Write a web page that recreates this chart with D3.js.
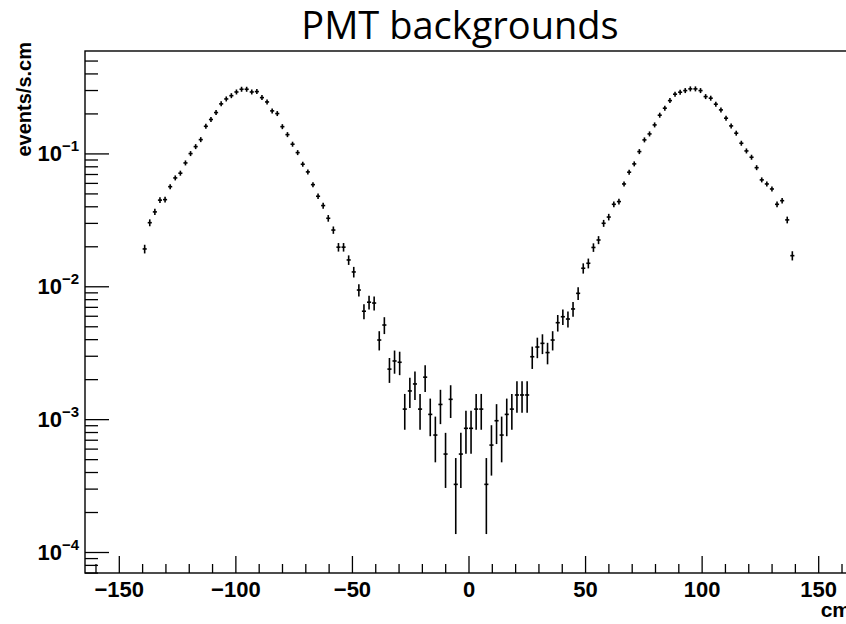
<!DOCTYPE html>
<html>
<head>
<meta charset="utf-8">
<script src="https://cdn.jsdelivr.net/npm/d3@7"></script>
<style>
  body { margin: 0; background: #fff; }
  svg { display: block; }
</style>
</head>
<body>
<svg id="chart" width="846" height="624"></svg>
<script>
// Histogram binning (128 bins between -140 and 140 cm).
const binLow = -140;
const binHigh = 140;
const nBins = 128;

// Rate in each bin, events/s.cm, left to right.
const rates = [
  0.0191, 0.0301, 0.0363, 0.0445, 0.0449, 0.0562, 0.0654, 0.0710, 0.0848, 0.0997,
  0.1125, 0.127, 0.160, 0.180, 0.203, 0.236, 0.257, 0.272, 0.290, 0.304,
  0.304, 0.290, 0.292, 0.263, 0.244, 0.209, 0.1995, 0.159, 0.1385, 0.1173,
  0.1014, 0.0829, 0.0726, 0.0582, 0.0476, 0.0405, 0.0325, 0.0265, 0.0197, 0.0197,
  0.01578, 0.01282, 0.00937,
  0.00649, 0.00759, 0.00748, 0.00394, 0.00511, 0.00238, 0.00274, 0.00268, 0.00119, 0.00163,
  0.00184, 0.00119, 0.00207, 0.001086, 0.000759, 0.00129, 0.000546, 0.00141, 0.000323, 0.000546,
  0.000853, 0.000853, 0.00119, 0.00119, 0.000323, 0.000638, 0.000973, 0.000759, 0.001086, 0.00119,
  0.00152, 0.00152, 0.00152, 0.00295, 0.00349, 0.00372, 0.00317, 0.00394, 0.00532, 0.0059,
  0.00567, 0.00675, 0.00885, 0.01367, 0.0149, 0.0196, 0.0223, 0.0298, 0.0332, 0.0414,
  0.0434, 0.0589, 0.0722, 0.0834, 0.1032, 0.1264, 0.1402, 0.1639, 0.1939, 0.2190,
  0.2497, 0.2791, 0.2889, 0.2971, 0.3060, 0.3060, 0.2971, 0.2677, 0.2604, 0.2347,
  0.2126, 0.1841, 0.1611, 0.1420, 0.1193, 0.1044, 0.0936, 0.0781, 0.0632, 0.0589,
  0.0540, 0.0414, 0.0441, 0.0316, 0.0170,
];

// Rate carried by a single event (sets the Poisson error bars).
const unitRate = 1.077e-4;

const xMajorTicks = [-150, -100, -50, 0, 50, 100, 150];
const yDecades = [-4, -3, -2, -1];

const title = 'PMT backgrounds';
const xTitle = 'cm';
const yTitle = 'events/s.cm';

const frame = {left: 85, right: 852, top: 51, bottom: 573};

const svg = d3.select('#chart');

const x = d3.scaleLinear()
  .domain([-164.5, 164.5])
  .range([frame.left, frame.right]);
const y = d3.scaleLog()
  .domain([6.95e-5, 0.59])
  .range([frame.bottom, frame.top]);

const binWidth = (binHigh - binLow) / nBins;
const bins = rates.map((v, i) => ({
  center: binLow + binWidth * (i + 0.5),
  value: v,
  err: Math.sqrt(v * unitRate),
}));

// Minor ticks: every 10 cm on x, 2..9 in each decade on y
const xMinorTicks = d3.range(-160, 161, 10).filter((t) => t % 50 !== 0);
const yMinorTicks = [];
for (let d = -5; d <= 0; d++) {
  for (let m = 2; m <= 9; m++) {
    const t = m * Math.pow(10, d);
    if (t > y.domain()[0] && t < y.domain()[1]) yMinorTicks.push(t);
  }
}

const axisStyle = (g) => {
  g.select('.domain').remove();
  g.selectAll('line').attr('stroke', '#000').attr('stroke-width', 1.3);
};

// Bottom axis, ticks pointing up into the frame
svg.append('g')
  .attr('transform', `translate(0,${frame.bottom})`)
  .call(d3.axisBottom(x).tickValues(xMinorTicks).tickSize(-9).tickFormat(''))
  .call(axisStyle);
svg.append('g')
  .attr('transform', `translate(0,${frame.bottom})`)
  .call(d3.axisBottom(x).tickValues(xMajorTicks).tickSize(-17).tickPadding(8))
  .call(axisStyle)
  .call((g) => g.selectAll('text')
    .attr('y', 24)
    .attr('dy', null)
    .attr('fill', '#000')
    .attr('font-family', 'Liberation Sans, Arial, sans-serif')
    .attr('font-weight', 'bold')
    .attr('font-size', 22));

// Left axis, ticks pointing right into the frame
svg.append('g')
  .attr('transform', `translate(${frame.left},0)`)
  .call(d3.axisLeft(y).tickValues(yMinorTicks).tickSize(-13).tickFormat(''))
  .call(axisStyle);
svg.append('g')
  .attr('transform', `translate(${frame.left},0)`)
  .call(d3.axisLeft(y).tickValues(yDecades.map((d) => Math.pow(10, d)))
    .tickSize(-24).tickFormat(''))
  .call(axisStyle);

// Decade labels as 10 with a superscript exponent
const yLabels = svg.append('g')
  .attr('font-family', 'Liberation Sans, Arial, sans-serif')
  .attr('font-weight', 'bold')
  .attr('text-anchor', 'end');
yDecades.forEach((d) => {
  const t = yLabels.append('text')
    .attr('x', 79)
    .attr('y', y(Math.pow(10, d)) + 8);
  t.append('tspan').attr('font-size', 22).text('10');
  t.append('tspan').attr('font-size', 15).attr('dy', -10).text('\u2212' + (-d));
});

// Frame
svg.append('rect')
  .attr('x', frame.left)
  .attr('y', frame.top)
  .attr('width', frame.right - frame.left)
  .attr('height', frame.bottom - frame.top)
  .attr('fill', 'none')
  .attr('stroke', '#000')
  .attr('stroke-width', 1.4);

// Data: horizontal bar across the bin, vertical bar for the error
const marks = svg.append('g')
  .attr('stroke', '#000')
  .attr('stroke-width', 1.6);
marks.selectAll('line.h')
  .data(bins)
  .join('line')
  .attr('class', 'h')
  .attr('x1', (d) => x(d.center - binWidth / 2) + 0.5)
  .attr('x2', (d) => x(d.center + binWidth / 2) - 0.5)
  .attr('y1', (d) => y(d.value))
  .attr('y2', (d) => y(d.value));
marks.selectAll('line.v')
  .data(bins)
  .join('line')
  .attr('class', 'v')
  .attr('x1', (d) => x(d.center))
  .attr('x2', (d) => x(d.center))
  .attr('y1', (d) => Math.min(y(d.value + d.err), y(d.value) - 2.5))
  .attr('y2', (d) => Math.max(y(d.value - d.err), y(d.value) + 2.5));

// Titles
svg.append('text')
  .attr('x', 460)
  .attr('y', 39)
  .attr('text-anchor', 'middle')
  .attr('font-family', 'Open Sans, sans-serif')
  .attr('font-size', 38)
  .attr('fill', '#000')
  .text(title);

svg.append('text')
  .attr('x', 851)
  .attr('y', 617)
  .attr('text-anchor', 'end')
  .attr('font-family', 'Liberation Sans, Arial, sans-serif')
  .attr('font-weight', 'bold')
  .attr('font-size', 21)
  .text(xTitle);

svg.append('text')
  .attr('transform', 'translate(31,42) rotate(-90)')
  .attr('text-anchor', 'end')
  .attr('font-family', 'Liberation Sans, Arial, sans-serif')
  .attr('font-weight', 'bold')
  .attr('font-size', 20)
  .text(yTitle);
</script>
</body>
</html>
